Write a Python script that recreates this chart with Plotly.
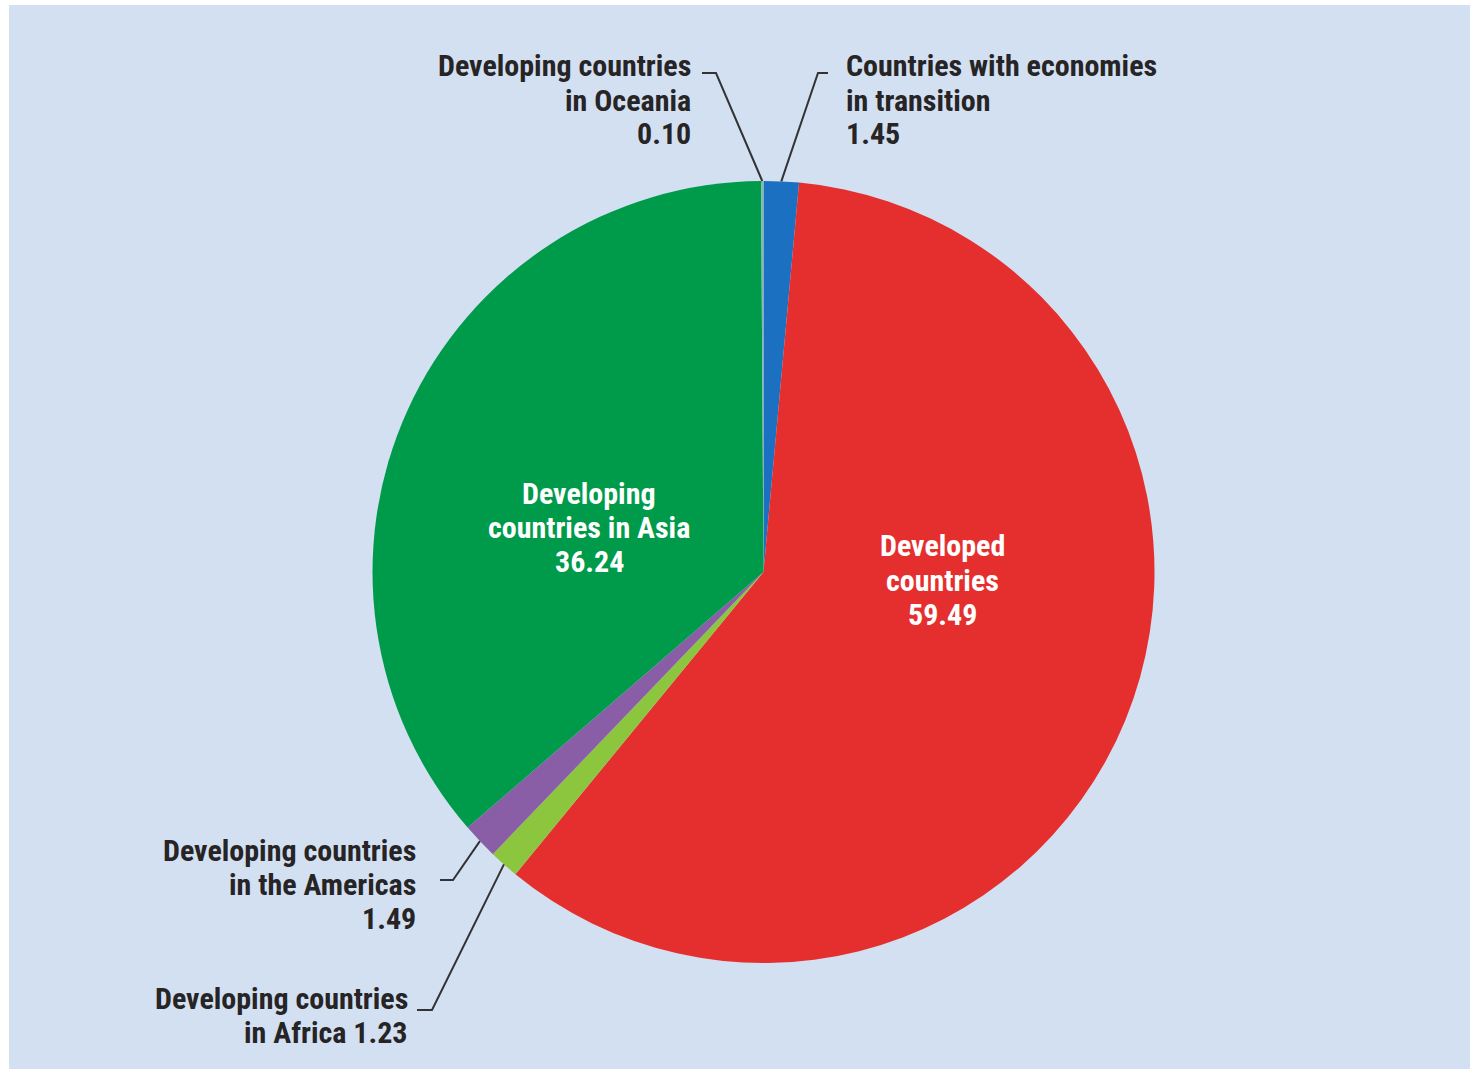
import math
import plotly.graph_objects as go

# ---- data ----
categories = [
    "Countries with economies in transition",
    "Developed countries",
    "Developing countries in Africa",
    "Developing countries in the Americas",
    "Developing countries in Asia",
    "Developing countries in Oceania",
]
values = [1.45, 59.49, 1.23, 1.49, 36.24, 0.10]
colors = ["#1c70c2", "#e52f2f", "#8cc63f", "#8a5ea6", "#009a4b", "#86b9ad"]

W, H = 1470, 1069
CX, CY, R = 763.5, 572.0, 391.0
BG = "#d3e0f2"
DARK = "#262424"
FONT = "Liberation Sans Narrow, Roboto Condensed, DejaVu Sans Condensed, Arial Narrow, sans-serif"
FS = 30
LH = 34


def px(x):
    return x / W


def py(y):
    return 1 - y / H


def edge_point(idx, rfac=1.0):
    total = sum(values)
    start = sum(values[:idx]) / total
    mid = (start + values[idx] / total / 2) * 2 * math.pi
    return CX + R * rfac * math.sin(mid), CY - R * rfac * math.cos(mid)


fig = go.Figure()
fig.add_trace(go.Pie(
    labels=categories,
    values=values,
    sort=False,
    direction="clockwise",
    rotation=0,
    marker=dict(colors=colors, line=dict(width=0)),
    textinfo="none",
    hoverinfo="label+value",
    showlegend=False,
    domain=dict(x=[px(CX - R), px(CX + R)], y=[py(CY + R), py(CY - R)]),
))

annotations = []


def add_lines(lines, x, y0, anchor, color=DARK):
    for i, t in enumerate(lines):
        annotations.append(dict(
            x=px(x), y=py(y0 + i * LH), xref="paper", yref="paper",
            text=t, showarrow=False, xanchor=anchor, yanchor="middle",
            borderpad=0,
            font=dict(family=FONT, size=FS, color=color, weight="bold"),
        ))


def fmt(v):
    return f"{v:.2f}"


# outside labels
add_lines(["Developing countries", "in Oceania", fmt(values[5])], 692, 66, "right")
add_lines(["Countries with economies", "in transition", fmt(values[0])], 845, 66, "left")
add_lines(["Developing countries", "in the Americas", fmt(values[3])], 417, 850, "right")
add_lines(["Developing countries", "in Africa " + fmt(values[2])], 409, 998, "right")
# inside labels
add_lines(["Developing", "countries in Asia", fmt(values[4])], 589, 493, "center", "#ffffff")
add_lines(["Developed", "countries", fmt(values[1])], 943, 546, "center", "#ffffff")

shapes = [dict(type="rect", xref="paper", yref="paper", x0=px(9), x1=1.02, y0=-0.02, y1=py(5),
               fillcolor=BG, line=dict(width=0), layer="below")]


def leader(p_text, p_knee, idx):
    ex, ey = edge_point(idx, 1.0)
    path = f"M {px(p_text[0])} {py(p_text[1])} L {px(p_knee[0])} {py(p_knee[1])} L {px(ex)} {py(ey)}"
    shapes.append(dict(type="path", xref="paper", yref="paper", path=path,
                       line=dict(color="#333333", width=2)))


leader((702, 73), (716, 73), 5)
leader((828, 73), (818, 73), 0)
leader((440, 880), (453, 880), 3)
leader((417, 1010), (432, 1010), 2)

fig.update_layout(
    width=W, height=H,
    margin=dict(l=0, r=0, t=0, b=0),
    paper_bgcolor="#ffffff",
    plot_bgcolor="#ffffff",
    annotations=annotations,
    shapes=shapes,
)

fig.write_html("out.html", config={"displayModeBar": False})
